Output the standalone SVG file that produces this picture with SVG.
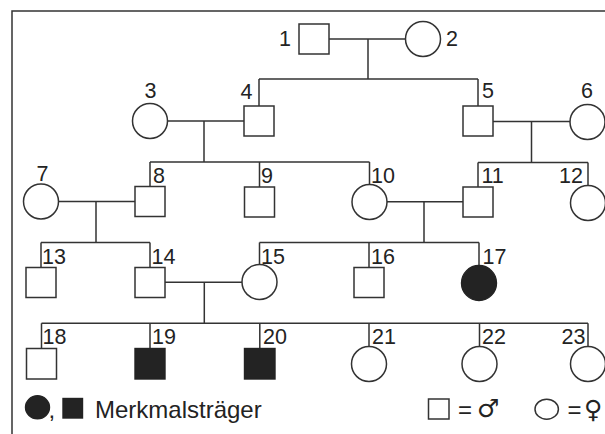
<svg xmlns="http://www.w3.org/2000/svg" width="605" height="434" viewBox="0 0 605 434">
  <style>
    .ln { fill: none; stroke: #333; stroke-width: 1.5; }
    .m { fill: #fff; stroke: #333; stroke-width: 1.5; }
    .f { fill: #fff; stroke: #333; stroke-width: 1.5; }
    .aff { fill: #232323; stroke: #232323; stroke-width: 1.4; }
    .lbl { font-family: "Liberation Sans", Arial, sans-serif; font-size: 21.5px; fill: #232323; }
    .leg { font-family: "Liberation Sans", Arial, sans-serif; font-size: 24px; fill: #232323; }
    .sym { font-family: "DejaVu Sans", sans-serif; font-size: 25px; fill: #232323; }
  </style>
  <rect width="605" height="434" fill="#fff"/>

  <!-- frame (open to the right and bottom) -->
  <path class="ln" d="M12 434 V11 H605"/>

  <!-- connectors: mating lines, descent lines, sibling lines -->
  <g id="connectors" class="ln">
    <!-- generation I -->
    <path d="M329 39 H405.5 M368 39 V79 M259 79 H478 M259 79 V106 M478 79 V106"/>
    <!-- generation II -->
    <path d="M167.5 121 H244 M204 121 V162 M150 162 H369.5 M150 162 V186 M259.5 162 V187 M369.5 162 V184.5"/>
    <path d="M493 121.5 H570 M531.5 121.5 V162.5 M478 162.5 H588 M478 162.5 V187 M588 162.5 V185.5"/>
    <!-- generation III -->
    <path d="M58.5 201.5 H135 M96 201.5 V242.5 M41 242.5 H150 M41 242.5 V267.5 M150 242.5 V267.5"/>
    <path d="M387 201.7 H463 M424 201.7 V242.5 M259.5 242.5 H479 M259.5 242.5 V264.5 M369 242.5 V267.5 M479 242.5 V265"/>
    <!-- generation IV -->
    <path d="M165 282.3 H242 M204.3 282.3 V323.3 M41.5 323.3 H588 M41.5 323.3 V348.5 M150 323.3 V348.5 M259.8 323.3 V348.5 M369 323.3 V346.5 M479.5 323.3 V346.5 M588 323.3 V346.5"/>
  </g>

  <!-- generation I -->
  <g id="n1"><rect class="m" x="299" y="24" width="30" height="30"/><text class="lbl" x="291" y="46" text-anchor="end">1</text></g>
  <g id="n2"><ellipse class="f" cx="423" cy="39" rx="17.5" ry="17.5"/><text class="lbl" x="446" y="46">2</text></g>

  <!-- generation II -->
  <g id="n3"><circle class="f" cx="150" cy="121" r="17.5"/><text class="lbl" x="150.5" y="98" text-anchor="middle">3</text></g>
  <g id="n4"><rect class="m" x="244" y="106" width="30" height="30"/><text class="lbl" x="252.5" y="99" text-anchor="end">4</text></g>
  <g id="n5"><rect class="m" x="463" y="106" width="30" height="30"/><text class="lbl" x="482" y="98">5</text></g>
  <g id="n6"><circle class="f" cx="587.5" cy="122" r="17.5"/><text class="lbl" x="587" y="98" text-anchor="middle">6</text></g>

  <!-- generation III -->
  <g id="n7"><circle class="f" cx="41" cy="201.5" r="17.5"/><text class="lbl" x="42.5" y="180.5" text-anchor="middle">7</text></g>
  <g id="n8"><rect class="m" x="135" y="186.5" width="30" height="30"/><text class="lbl" x="153" y="183">8</text></g>
  <g id="n9"><rect class="m" x="244.5" y="187" width="30" height="30"/><text class="lbl" x="261" y="183">9</text></g>
  <g id="n10"><circle class="f" cx="369.5" cy="202" r="17.5"/><text class="lbl" x="371" y="183">10</text></g>
  <g id="n11"><rect class="m" x="463" y="187" width="30" height="30"/><text class="lbl" x="481.5" y="183">11</text></g>
  <g id="n12"><circle class="f" cx="588" cy="203" r="17.5"/><text class="lbl" x="583" y="183" text-anchor="end">12</text></g>

  <!-- generation IV -->
  <g id="n13"><rect class="m" x="26" y="267.5" width="30" height="30"/><text class="lbl" x="42" y="263.5">13</text></g>
  <g id="n14"><rect class="m" x="135" y="267.5" width="30" height="30"/><text class="lbl" x="151.5" y="263.5">14</text></g>
  <g id="n15"><circle class="f" cx="259.5" cy="282" r="17.5"/><text class="lbl" x="261" y="263.5">15</text></g>
  <g id="n16"><rect class="m" x="354" y="267.5" width="30" height="30"/><text class="lbl" x="371" y="263.5">16</text></g>
  <g id="n17"><circle class="aff" cx="479" cy="283" r="17.5"/><text class="lbl" x="482.5" y="263.5">17</text></g>

  <!-- generation V -->
  <g id="n18"><rect class="m" x="26.5" y="348.5" width="30" height="30.5"/><text class="lbl" x="42.5" y="344">18</text></g>
  <g id="n19"><rect class="aff" x="135" y="348.5" width="30" height="30.5"/><text class="lbl" x="152" y="344">19</text></g>
  <g id="n20"><rect class="aff" x="244.5" y="348.5" width="30.5" height="30.5"/><text class="lbl" x="263" y="344">20</text></g>
  <g id="n21"><circle class="f" cx="369" cy="364" r="17.5"/><text class="lbl" x="372" y="344">21</text></g>
  <g id="n22"><circle class="f" cx="479.5" cy="364" r="17.5"/><text class="lbl" x="482" y="344">22</text></g>
  <g id="n23"><circle class="f" cx="588" cy="364" r="17.5"/><text class="lbl" x="585.5" y="344" text-anchor="end">23</text></g>

  <!-- legend -->
  <g id="legend">
    <ellipse class="aff" cx="37.5" cy="407.3" rx="12" ry="11.5"/>
    <text class="leg" x="48.5" y="418">,</text>
    <rect class="aff" x="63" y="398.5" width="19.5" height="19.5"/>
    <text class="leg" x="95" y="417.5">Merkmalsträger</text>

    <rect class="m" x="428.5" y="399" width="20.5" height="20"/>
    <text class="leg" x="465" y="417.5" text-anchor="middle">=</text>
    <text class="sym" x="477" y="417">♂</text>

    <ellipse class="f" cx="546.7" cy="409.2" rx="11.7" ry="10"/>
    <text class="leg" x="574.5" y="417.5" text-anchor="middle">=</text>
    <text class="sym" x="584" y="418" font-size="26">♀</text>
  </g>
</svg>
